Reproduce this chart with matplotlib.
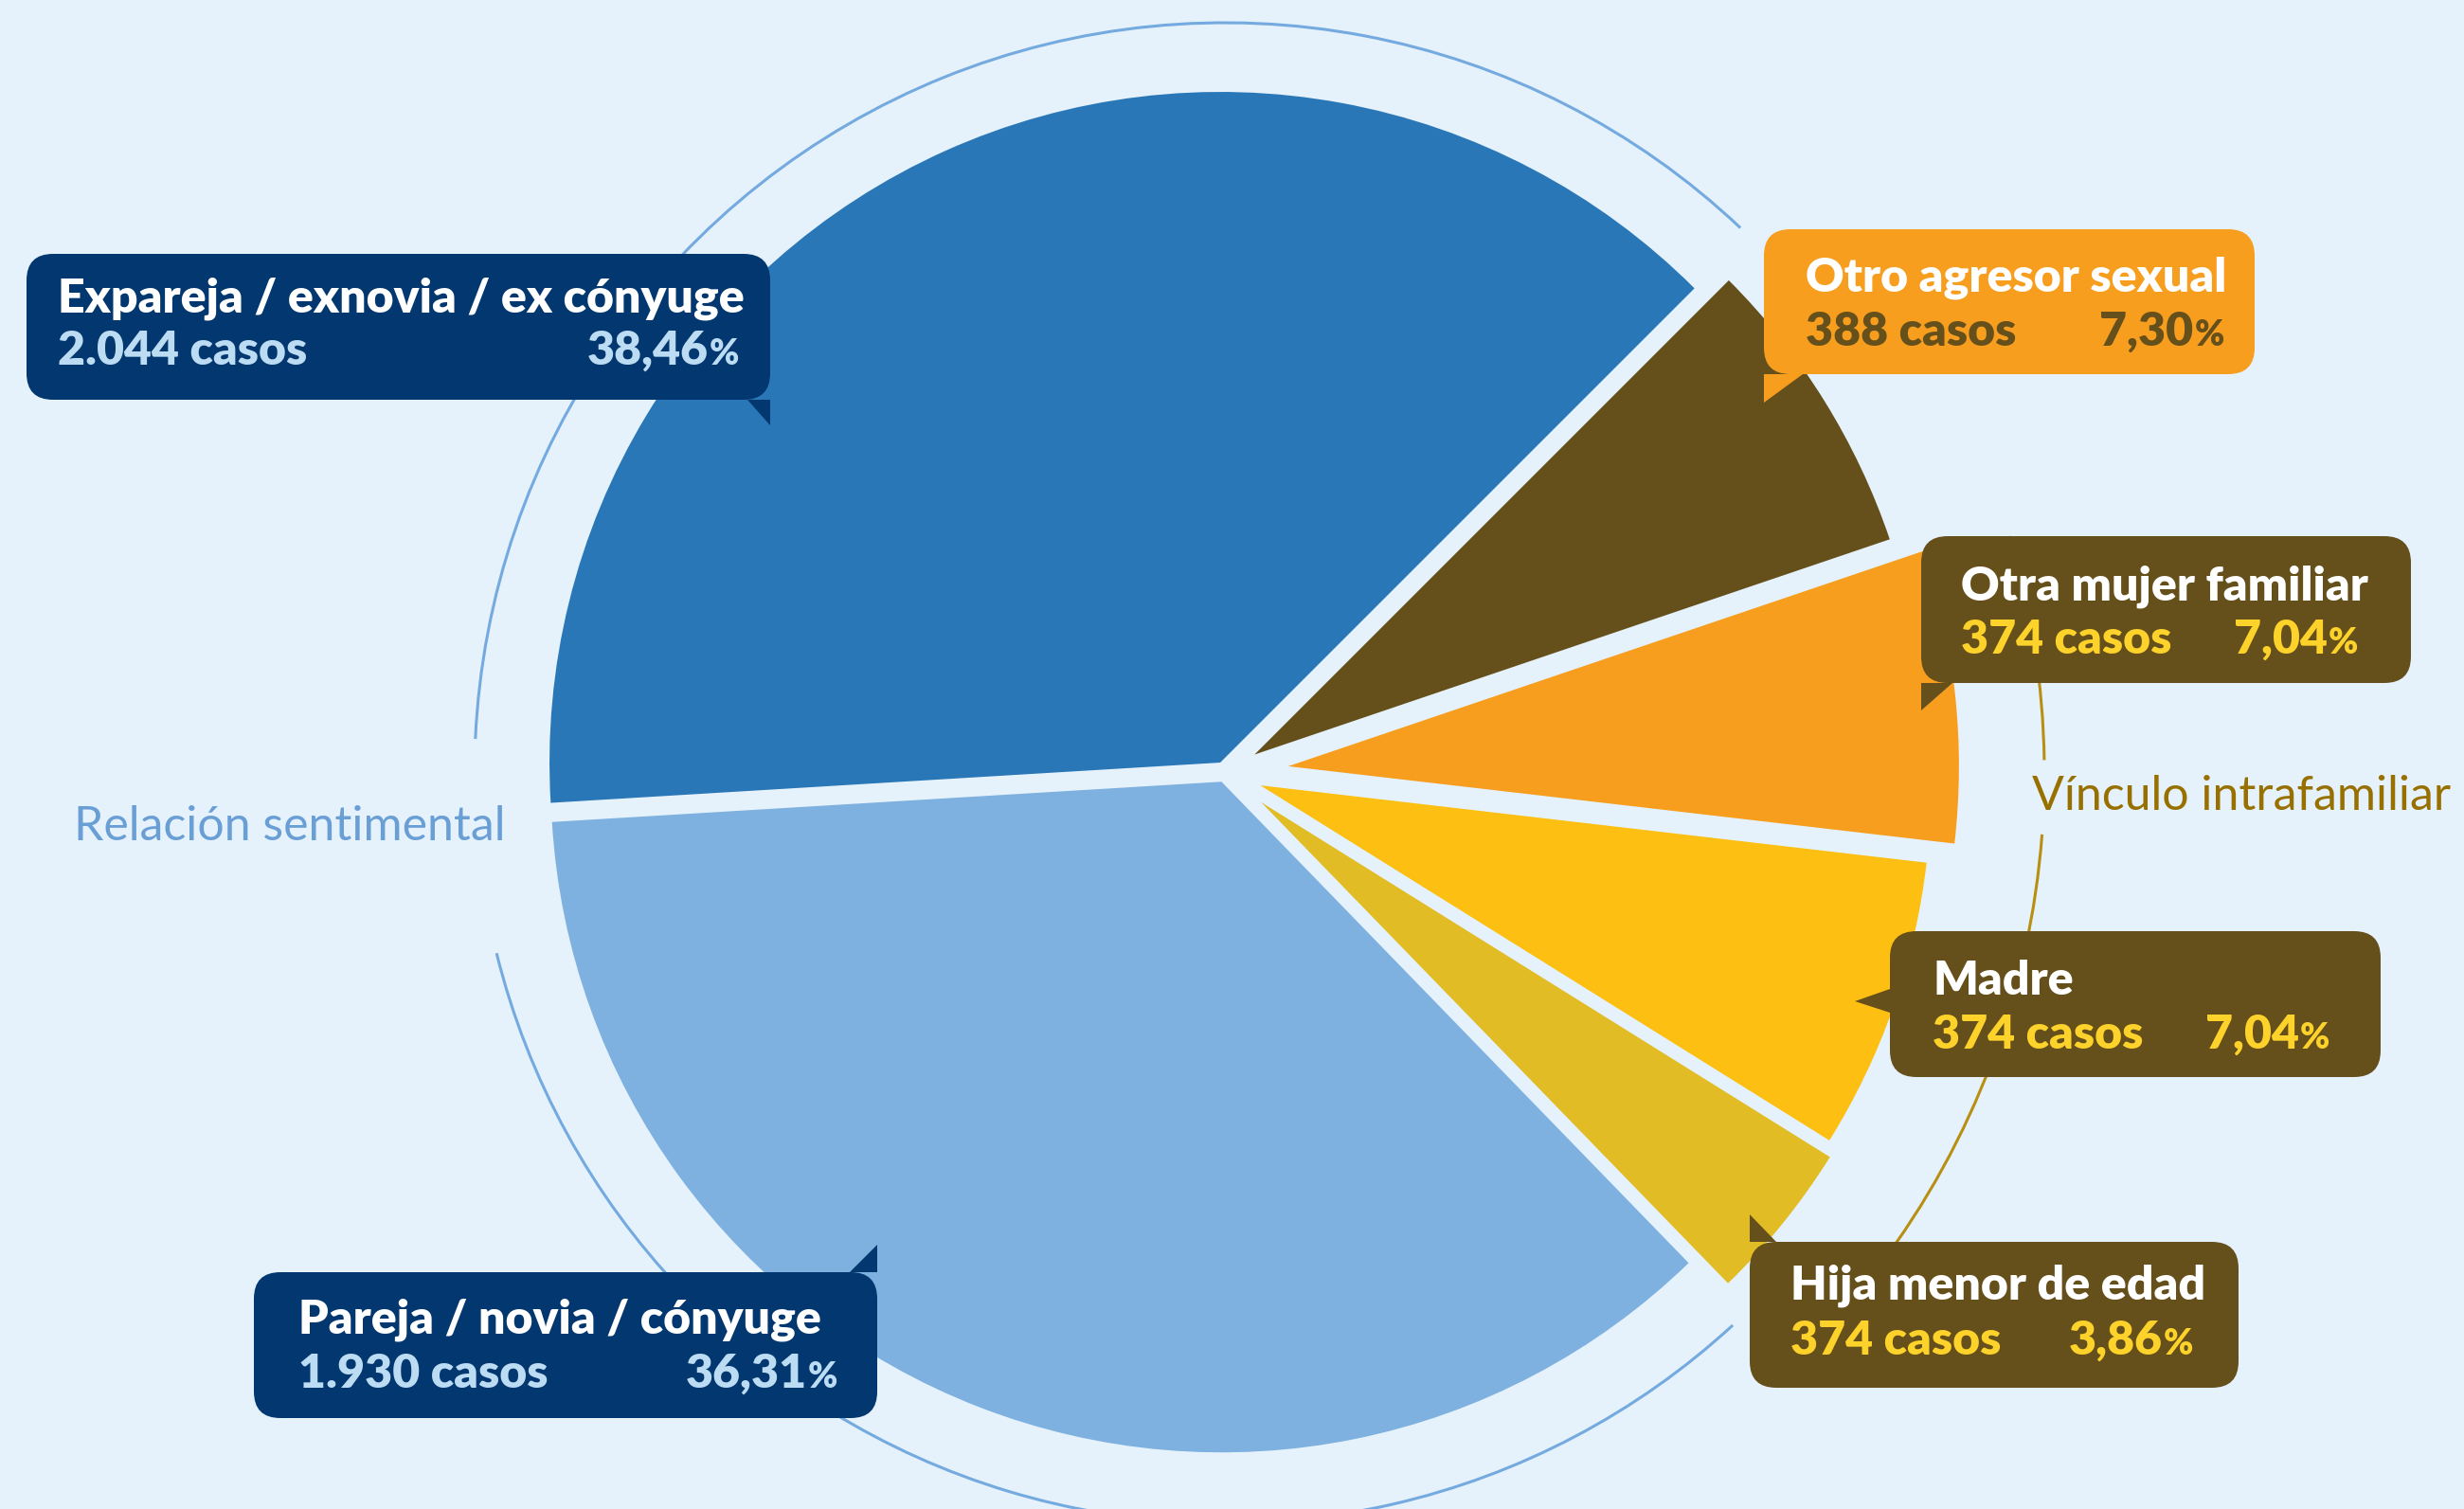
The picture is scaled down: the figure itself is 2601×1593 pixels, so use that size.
import matplotlib
matplotlib.use("Agg")
import matplotlib.pyplot as plt
from matplotlib.patches import FancyBboxPatch, Polygon, Arc

# ---------------- data ----------------
categories = ["Expareja / exnovia / ex cónyuge", "Pareja / novia / cónyuge",
              "Hija menor de edad", "Madre", "Otra mujer familiar",
              "Otro agresor sexual"]
cases = ["2.044", "1.930", "374", "374", "374", "388"]
percents = [38.46, 36.31, 3.86, 7.04, 7.04, 7.30]
group_labels = ["Relación sentimental", "Vínculo intrafamiliar"]

# ---------------- style / layout ----------------
W, H, DPI = 2601, 1593, 100
BG = "#e5f2fb"
slice_colors = ["#2a77b8", "#7eb1df", "#e2bc25", "#fcbf12", "#f79e1f", "#654f1b"]
CX, CY_PX, R = 1293, 816, 708
explode_frac = [0.017, 0.014, 0.069, 0.056, 0.095, 0.052]   # fraction of radius
NAVY, BROWN, ORANGE = "#03376f", "#654f1b", "#f79e1f"
LIGHTBLUE_TXT, YELLOW_TXT = "#bcdcf4", "#fdd22b"

FONT = ["Lato", "DejaVu Sans"]
FS = 36
WEIGHT = 800

# box layout in pixel coords (y down): box, pointer, colours, text anchors
boxes = [
    dict(box=(28, 268, 813, 422), ptr=[(789, 422), (813, 422), (813, 449)],
         fc=NAVY, c1="white", c2=LIGHTBLUE_TXT, xl=61, xr=780, b1=330, b2=385),
    dict(box=(268, 1343, 926, 1497), ptr=[(897, 1343), (926, 1343), (926, 1314)],
         fc=NAVY, c1="white", c2=LIGHTBLUE_TXT, xl=315, xr=884, b1=1407, b2=1465),
    dict(box=(1847, 1311, 2363, 1465), ptr=[(1847, 1311), (1875, 1311), (1847, 1282)],
         fc=BROWN, c1="white", c2=YELLOW_TXT, xl=1890, xr=2315, b1=1372, b2=1430),
    dict(box=(1995, 983, 2513, 1137), ptr=[(1995, 1044), (1958, 1057), (1995, 1069)],
         fc=BROWN, c1="white", c2=YELLOW_TXT, xl=2040, xr=2459, b1=1050, b2=1107),
    dict(box=(2028, 566, 2545, 721), ptr=[(2028, 721), (2061, 721), (2028, 750)],
         fc=BROWN, c1="white", c2=YELLOW_TXT, xl=2070, xr=2489, b1=633, b2=690),
    dict(box=(1862, 242, 2380, 395), ptr=[(1862, 395), (1903, 395), (1862, 425)],
         fc=ORANGE, c1="white", c2=BROWN, xl=1906, xr=2348, b1=308, b2=365),
]


def Y(y):
    return H - y


fig = plt.figure(figsize=(W / DPI, H / DPI), dpi=DPI, facecolor=BG)
ax = fig.add_axes([0, 0, 1, 1])
ax.set_facecolor(BG)

ax.pie(percents, explode=[e * R for e in explode_frac], colors=slice_colors,
       startangle=45, counterclock=True, radius=R, center=(CX, Y(CY_PX)),
       wedgeprops=dict(linewidth=0, antialiased=True))
ax.set_xlim(0, W)
ax.set_ylim(0, H)
ax.set_aspect("equal")
ax.axis("off")

# group arcs
cen = (CX, Y(CY_PX))
blue_r, gold_r = 792, 865
for t1, t2 in [(46.6, 177.4), (193.9, 312.6)]:
    ax.add_patch(Arc(cen, 2 * blue_r, 2 * blue_r, theta1=t1, theta2=t2,
                     color="#74aadf", lw=2.2, zorder=2))
for t1, t2 in [(-37, -4.3), (0.9, 16.8)]:
    ax.add_patch(Arc(cen, 2 * gold_r, 2 * gold_r, theta1=t1, theta2=t2,
                     color="#b88f12", lw=2.2, zorder=2))

ax.text(78, Y(887), group_labels[0], color="#6a9fd6", fontsize=36,
        family=FONT, ha="left", va="baseline", zorder=3)
ax.text(2145, Y(855), group_labels[1], color="#987000", fontsize=36,
        family=FONT, ha="left", va="baseline", zorder=3)

renderer = fig.canvas.get_renderer()

for i, b in enumerate(boxes):
    x0, y0, x1, y1 = b["box"]
    ax.add_patch(FancyBboxPatch((x0, Y(y1)), x1 - x0, y1 - y0,
                                boxstyle="round,pad=0,rounding_size=28",
                                fc=b["fc"], ec="none", zorder=5))
    ax.add_patch(Polygon([(px, Y(py)) for px, py in b["ptr"]], closed=True,
                         fc=b["fc"], ec="none", zorder=5))
    ax.text(b["xl"], Y(b["b1"]), categories[i], color=b["c1"], fontsize=FS,
            fontweight=WEIGHT, family=FONT, ha="left", va="baseline", zorder=6)
    ax.text(b["xl"], Y(b["b2"]), f"{cases[i]} casos", color=b["c2"], fontsize=FS,
            fontweight=WEIGHT, family=FONT, ha="left", va="baseline", zorder=6)
    tp = ax.text(b["xr"], Y(b["b2"]), "%", color=b["c2"], fontsize=FS * 0.75,
                 fontweight=WEIGHT, family=FONT, ha="right", va="baseline", zorder=6)
    wpct = tp.get_window_extent(renderer).width
    num = f"{percents[i]:.2f}".replace(".", ",")
    ax.text(b["xr"] - wpct - 1, Y(b["b2"]), num, color=b["c2"], fontsize=FS,
            fontweight=WEIGHT, family=FONT, ha="right", va="baseline", zorder=6)

fig.savefig("out.png", dpi=DPI, facecolor=BG)
